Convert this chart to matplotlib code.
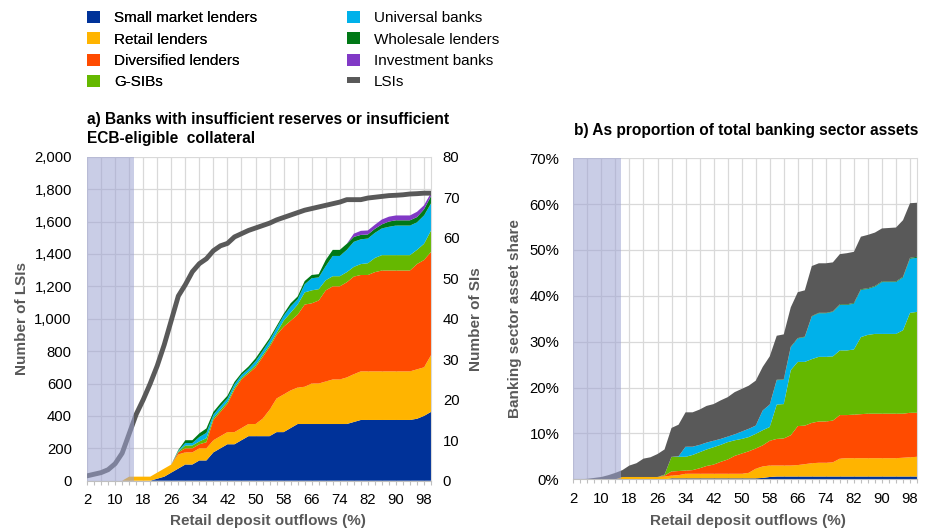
import numpy as np
import matplotlib
matplotlib.use("Agg")
import matplotlib.pyplot as plt
from matplotlib.patches import Patch
from matplotlib.lines import Line2D
from matplotlib.ticker import StrMethodFormatter, PercentFormatter

plt.rcParams['font.family'] = ['Liberation Sans', 'DejaVu Sans']

# retail deposit outflow scenarios (%)
outflows = np.arange(2, 101, 2)

# ---- panel a: number of SIs by business model (right axis) ----
si_small = [0, 0, 0, 0, 0, 0, 0, 0, 0, 0, 0.5, 1, 2, 3, 4, 4, 5, 5, 7, 8,
            9, 9, 10, 11, 11, 11, 11, 12, 12, 13, 14, 14, 14, 14, 14, 14, 14, 14, 14.5, 15,
            15, 15, 15, 15, 15, 15, 15, 15.3, 16, 17]
si_retail = [0, 0, 0, 0, 0, 0, 1, 1, 1, 1, 1.5, 2, 2, 3.5, 3, 3, 3, 3, 3, 3,
             3, 3, 3, 3, 3, 4.3, 6.5, 8.3, 9.3, 9.3, 9, 9.2, 10, 10, 10.5, 11, 11, 11.5, 11.8, 12,
             12, 12, 12, 12, 12, 12, 12, 12.2, 12, 14]
si_diversified = [0, 0, 0, 0, 0, 0, 0, 0, 0, 0, 0, 0, 0, 0.5, 1, 1, 1, 1.5, 5, 6,
                  7, 10.5, 12, 12.5, 14, 15.2, 15.5, 15.7, 16.7, 17.2, 18, 20.3, 19.8, 20.5, 22.5, 23, 23, 23.5, 24.1, 23.8,
                  23.8, 24.5, 24.9, 24.9, 24.9, 24.9, 24.9, 26, 26.5, 25.5]
si_gsib = [0, 0, 0, 0, 0, 0, 0, 0, 0, 0, 0, 0, 0, 0.2, 0.7, 0.7, 0.7, 1, 0.5, 0.5,
           0.5, 0.5, 0.4, 0.4, 0.5, 0.5, 0.5, 0.5, 1.5, 2, 2.5, 3, 3.2, 2.8, 2.5, 2.5, 2.5, 2.5, 2.4, 2.7,
           2.9, 3.5, 3.8, 3.8, 3.8, 3.8, 3.8, 3.5, 4, 5.3]
si_universal = [0, 0, 0, 0, 0, 0, 0, 0, 0, 0, 0, 0, 0, 0.2, 0.6, 0.6, 1.1, 1.3, 0.8, 0.9,
                0.8, 0.8, 0.7, 0.7, 1, 1, 1.1, 1.2, 1.2, 1.5, 1.3, 2, 3, 2.9, 3.5, 5, 5, 5.5, 6.2, 6.1,
                6.1, 6.2, 6.6, 7, 7.3, 7.3, 7.3, 6.8, 7, 6.7]
si_wholesale = [0, 0, 0, 0, 0, 0, 0, 0, 0, 0, 0, 0, 0, 0.2, 0.7, 0.7, 0.9, 1.1, 0.7, 0.7,
                0.7, 0.6, 0.5, 0.6, 0.7, 0.7, 0.6, 0.5, 0.5, 0.8, 0.7, 0.8, 0.8, 0.8, 1.5, 1.5, 1.5, 1.5, 1.2, 1.1,
                1, 1, 1, 1.3, 1.3, 1.3, 1.3, 1.3, 1.5, 1.8]
si_investment = [0] * 38 + [0.8, 1, 1, 1, 1.2, 1.2, 1.2, 1.2, 1.2, 1.3, 1, 0.8]

# number of LSIs (left axis)
lsi_count = [30, 40, 50, 68, 105, 170, 290, 410, 500, 600, 710, 840, 990, 1140, 1210, 1290, 1340, 1370, 1420, 1450,
             1465, 1505, 1525, 1545, 1560, 1575, 1590, 1610, 1625, 1640, 1655, 1670, 1680, 1690, 1700, 1710, 1720, 1735, 1735, 1735,
             1745, 1750, 1755, 1760, 1762, 1765, 1770, 1772, 1775, 1775]

# ---- panel b: share of total banking sector assets (%) ----
sh_small = [0] * 14 + [0.2] * 13 + [0.3, 0.5] + [0.6] * 21
sh_retail = [0, 0, 0, 0, 0, 0, 0, 0.5, 0.5, 0.5, 0.5, 0.5, 0.5, 0.6, 0.6, 0.7, 1.0, 1.0, 1.0, 1.0,
             1.0, 1.0, 1.0, 1.0, 1.0, 1.2, 2.1, 2.5, 2.5, 2.4, 2.4, 2.4, 2.5, 2.7, 2.9, 3.0, 3.0, 3.1, 3.9, 4.0,
             4.0, 4.0, 4.0, 4.0, 4.0, 4.0, 4.0, 4.1, 4.2, 4.3]
sh_diversified = [0] * 13 + [0.2, 0.9, 0.9, 0.7, 0.8, 1.2, 1.7,
                             2.0, 2.6, 3.1, 3.9, 4.4, 4.7, 4.4, 4.6, 5.4, 5.8, 5.9, 6.6, 8.5, 8.4, 8.8, 9.0, 9.0, 9.1, 9.5, 9.4,
                             9.5, 9.6, 9.7, 9.7, 9.7, 9.7, 9.7, 9.6, 9.7, 9.6]
sh_gsib = [0] * 13 + [0.2, 3.2, 3.1, 3.0, 3.3, 3.5, 3.6,
                      3.8, 3.7, 3.8, 3.4, 3.2, 3.1, 3.2, 3.3, 3.0, 7.5, 7.5, 14.2, 14.0, 13.9, 13.9, 14.1, 14.1, 14.0, 14.1, 14.1,
                      14.2, 16.8, 17.2, 17.4, 17.4, 17.4, 17.4, 18.2, 21.8, 22.0]
sh_universal = [0] * 14 + [0, 0.1, 2.2, 1.8, 1.6, 1.5,
                           1.4, 1.3, 1.2, 1.3, 1.6, 1.8, 1.8, 4.3, 4.9, 5.3, 5.3, 5.0, 5.1, 5.4, 9.3, 9.5, 9.5, 9.7, 9.9, 9.9,
                           10.0, 10.3, 10.0, 10.3, 11.3, 11.3, 11.3, 11.5, 11.8, 11.8]
sh_wholesale = [0] * 29 + [0.1] * 9 + [0.15] * 10 + [0.2, 0.2]
sh_investment = [0] * 50
sh_lsi = [0, 0, 0.1, 0.3, 0.5, 0.9, 1.4, 1.5, 2.5, 3.0, 4.0, 4.3, 5.0, 5.5, 6.3, 6.9, 7.5, 7.5, 7.7, 8.0,
          8.0, 8.4, 8.6, 9.2, 9.3, 9.4, 9.8, 9.5, 10.5, 9.6, 9.8, 8.6, 10.0, 10.1, 10.9, 10.8, 10.8, 10.7, 10.95, 11.15,
          11.15, 11.45, 11.65, 11.65, 11.55, 11.65, 11.75, 12.35, 11.9, 11.8]

series_names = ['Small market lenders', 'Retail lenders', 'Diversified lenders', 'G-SIBs',
                'Universal banks', 'Wholesale lenders', 'Investment banks']
series_colors = ['#003299', '#ffb400', '#ff4b00', '#65b800', '#00b1ea', '#007816', '#8139c6']
lsi_color = '#595959'
shade_color = '#9da4d2'
grid_color = '#d9d9d9'
label_grey = '#595959'
fs = 10.7     # tick labels
fs_lab = 11   # axis titles

fig = plt.figure(figsize=(9.33, 5.32), dpi=100)


def style_x(ax):
    ax.set_xlim(2, 100)
    major = np.arange(2, 99, 4)
    ax.set_xticks(major)
    ax.set_xticks(np.arange(4, 101, 4), minor=True)
    ax.set_xticklabels([str(v) if (v - 2) % 8 == 0 else '' for v in major])
    ax.tick_params(axis='x', which='both', length=3, width=0.8, color='#bfbfbf',
                   labelsize=fs, pad=6)
    ax.grid(True, axis='x', which='major', color=grid_color, lw=0.9)
    ax.set_xlabel('Retail deposit outflows (%)', color=label_grey, fontweight='bold', fontsize=fs_lab)
    for s in ['top', 'left']:
        ax.spines[s].set_visible(False)
    ax.spines['bottom'].set_color('#bfbfbf')
    ax.spines['right'].set_color(grid_color)
    ax.set_axisbelow(True)


# ---------------- panel a ----------------
ax_si = fig.add_axes([0.0933, 0.0964, 0.3687, 0.609])
ax_si.stackplot(outflows, si_small, si_retail, si_diversified, si_gsib, si_universal,
                si_wholesale, si_investment, colors=series_colors, lw=0)
ax_si.set_ylim(0, 80)
ax_si.set_yticks(np.arange(0, 81, 10))
ax_si.set_yticks(np.arange(0, 81, 8), minor=True)  # 200 LSI steps
ax_si.yaxis.remove_overlapping_locs = False
ax_si.grid(True, axis='y', which='minor', color=grid_color, lw=0.9)
style_x(ax_si)
ax_si.xaxis.set_label_coords(0.525, -0.103)

ax_lsi = ax_si.twinx()
# twinx puts the original ticks back on the left; swap sides
ax_si.yaxis.tick_right()
ax_si.yaxis.set_label_position('right')
ax_si.tick_params(axis='y', which='both', length=0, labelsize=fs, pad=8.5)
ax_si.set_ylabel('Number of SIs', color=label_grey, fontweight='bold', fontsize=fs_lab)
ax_si.yaxis.set_label_coords(1.11, 0.5)

ax_lsi.yaxis.tick_left()
ax_lsi.yaxis.set_label_position('left')
ax_lsi.plot(outflows, lsi_count, color=lsi_color, lw=3.5, solid_capstyle='round', zorder=2)
ax_lsi.axvspan(2, 15.5, color=shade_color, alpha=0.55, lw=0, zorder=3)
ax_lsi.set_ylim(0, 2000)
ax_lsi.set_yticks(np.arange(0, 2001, 200))
ax_lsi.yaxis.set_major_formatter(StrMethodFormatter('{x:,.0f}'))
ax_lsi.tick_params(axis='y', length=0, labelsize=fs, pad=11)
ax_lsi.set_ylabel('Number of LSIs', color=label_grey, fontweight='bold', fontsize=fs_lab)
ax_lsi.yaxis.set_label_coords(-0.17, 0.5)
for s in ax_lsi.spines.values():
    s.set_visible(False)

# ---------------- panel b ----------------
ax_b = fig.add_axes([0.6145, 0.0991, 0.3684, 0.6034])
ax_b.stackplot(outflows, sh_small, sh_retail, sh_diversified, sh_gsib, sh_universal,
               sh_wholesale, sh_investment, sh_lsi, colors=series_colors + [lsi_color], lw=0)
ax_b.axvspan(2, 15.5, color=shade_color, alpha=0.55, lw=0, zorder=3)
ax_b.set_ylim(0, 70)
ax_b.set_yticks(np.arange(0, 71, 10))
ax_b.yaxis.set_major_formatter(PercentFormatter(decimals=0))
ax_b.grid(True, axis='y', color=grid_color, lw=0.9)
ax_b.tick_params(axis='y', length=0, labelsize=fs, pad=10)
ax_b.set_ylabel('Banking sector asset share', color=label_grey, fontweight='bold', fontsize=fs_lab)
ax_b.yaxis.set_label_coords(-0.15, 0.5)
style_x(ax_b)
ax_b.xaxis.set_label_coords(0.507, -0.108)

# titles
fig.text(87 / 933, 1 - 112 / 532, 'a) Banks with insufficient reserves or insufficient\nECB-eligible  collateral',
         fontsize=11.2, fontweight='bold', va='top', ha='left', linespacing=1.3)
fig.text(574 / 933, 1 - 131 / 532, 'b) As proportion of total banking sector assets',
         fontsize=11.2, fontweight='bold', va='center', ha='left')

# legend
handles = [Patch(facecolor=c, edgecolor='none', label=n) for n, c in zip(series_names, series_colors)]
handles.append(Line2D([], [], color=lsi_color, lw=4.3, solid_capstyle='butt', label='LSIs'))
leg_kw = dict(frameon=False, fontsize=11, handlelength=0.85, handleheight=0.85, handletextpad=0.92,
              labelspacing=0.45, borderpad=0, borderaxespad=0, loc='upper left')
leg1 = fig.legend(handles=handles[:4], bbox_to_anchor=(87 / 933, 1 - 11 / 532), **leg_kw)
fig.legend(handles=handles[4:], bbox_to_anchor=(346.7 / 933, 1 - 11 / 532), **leg_kw)
fig.add_artist(leg1)

fig.savefig('out.png', dpi=100)
